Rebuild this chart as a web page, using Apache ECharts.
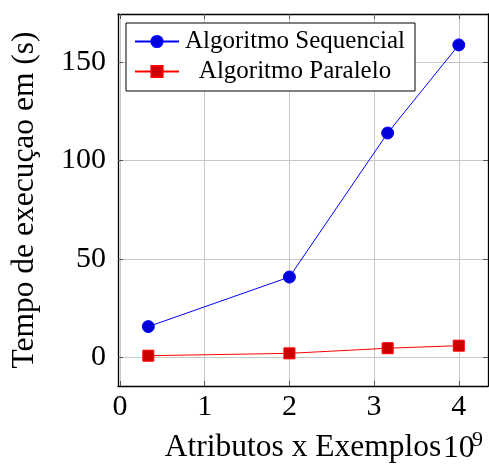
<!DOCTYPE html>
<html><head><meta charset="utf-8">
<script src="https://cdn.jsdelivr.net/npm/echarts@6/dist/echarts.min.js"></script>
<style>html,body{margin:0;padding:0;background:#fff}#c{width:489px;height:464px}</style>
</head><body><div id="c"></div>
<script>
const xSeq = [0.334, 2.0, 3.16, 4.0];
const ySeq = [15.6, 40.8, 114.0, 158.8];
const xPar = [0.334, 2.0, 3.16, 4.0];
const yPar = [0.8, 2.0, 4.6, 5.9];
const xTicks = [0, 1, 2, 3, 4];
const yTicks = [0, 50, 100, 150];
const seriesNames = ['Algoritmo Sequencial', 'Algoritmo Paralelo'];

const font = 'Liberation Serif';
const chart = echarts.init(document.getElementById('c'), null, {renderer: 'canvas'});
const xr = [-0.024, 4.345], yr = [-14.6, 174.5];
const tickStyle = {show: true, inside: true, length: 5, lineStyle: {color: '#555', width: 1}};
function xa(pos, main) {
  return {
    type: 'value', position: pos, min: xr[0], max: xr[1],
    axisLine: {show: true, onZero: false, lineStyle: {color: '#000', width: 1.3}},
    axisTick: Object.assign({customValues: xTicks}, tickStyle),
    axisLabel: {show: main, customValues: xTicks, color: '#000', fontFamily: font, fontSize: 30, margin: 6},
    splitLine: {show: main, lineStyle: {color: '#c8c8c8', width: 1}},
    name: main ? 'Atributos x Exemplos' : '', nameLocation: 'middle', nameGap: 46,
    nameTextStyle: {color: '#000', fontFamily: font, fontSize: 31.5}
  };
}
function ya(pos, main) {
  return {
    type: 'value', position: pos, min: yr[0], max: yr[1],
    axisLine: {show: true, onZero: false, lineStyle: {color: '#000', width: 1.3}},
    axisTick: Object.assign({customValues: yTicks}, tickStyle),
    axisLabel: {show: main, customValues: yTicks, color: '#000', fontFamily: font, fontSize: 30, margin: 12},
    splitLine: {show: main, lineStyle: {color: '#c8c8c8', width: 1}},
    name: main ? 'Tempo de execuçao em (s)' : '', nameLocation: 'middle', nameGap: 77,
    nameTextStyle: {color: '#000', fontFamily: font, fontSize: 31.5}
  };
}
chart.setOption({
  animation: false,
  grid: {left: 118, top: 14, width: 370, height: 372, containLabel: false, outerBoundsMode: 'none'},
  xAxis: [xa('bottom', true), xa('top', false)],
  yAxis: [ya('left', true), ya('right', false)],
  legend: {
    left: 126, top: 23, orient: 'vertical',
    padding: [6, 9, 7, 8], itemGap: 5,
    borderColor: '#000', borderWidth: 1, backgroundColor: '#fff',
    itemWidth: 44, itemHeight: 14,
    formatter: n => '{t|' + n + '}',
    textStyle: {rich: {t: {width: 222, lineHeight: 24, align: 'center', fontFamily: font, fontSize: 25, color: '#000'}}},
    data: seriesNames
  },
  graphic: [{type: 'text', left: 443, top: 433, style: {text: '10', font: '31.5px "Liberation Serif"', fill: '#000'}},
            {type: 'text', left: 472, top: 429, style: {text: '9', font: '22px "Liberation Serif"', fill: '#000'}}],
  series: [
    {name: seriesNames[0], type: 'line', data: xSeq.map((x, i) => [x, ySeq[i]]),
     symbol: 'circle', symbolSize: 12, lineStyle: {color: '#0000ff', width: 1},
     itemStyle: {color: '#0000d8', borderColor: '#0000ff', borderWidth: 1}},
    {name: seriesNames[1], type: 'line', data: xPar.map((x, i) => [x, yPar[i]]),
     symbol: 'rect', symbolSize: 11, lineStyle: {color: '#ff0000', width: 1},
     itemStyle: {color: '#cc0000', borderColor: '#ff0000', borderWidth: 1}}
  ]
});
</script></body></html>
